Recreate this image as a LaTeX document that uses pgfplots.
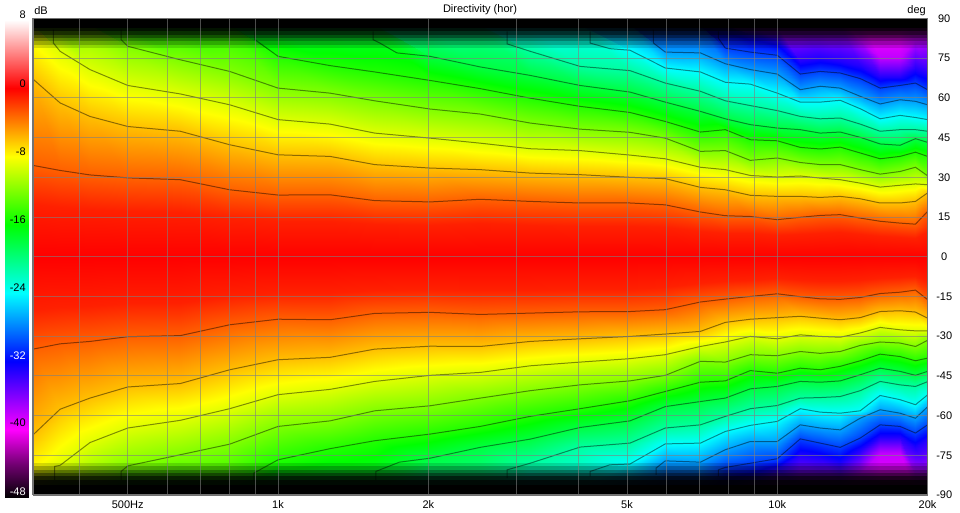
\documentclass[border=0pt]{standalone}
\usepackage{fontspec}
\setmainfont{Liberation Sans}
\usepackage{pgfplots}
\usepackage{pgfplotstable}
\pgfplotsset{compat=1.18}

% angle (deg) at which each level (dB) is reached, per frequency
% d = lower half, u = upper half, the number is the level below 0 dB
\pgfplotstableread{
lev 323 366 420 500 637 800 1000 1271 1562 2016 2541 3199 4027 5070 5966 7015 7870 8830 10000 11120 12190 13370 14660 16070 17620 18920 20000
d41 -90 -90 -90 -90 -90 -90 -90 -90 -90 -90 -90 -90 -90 -90 -90 -90 -90 -90 -90 -90 -90 -90 -90 -90 -90 -90 -90
d38 -90 -90 -90 -90 -90 -90 -90 -90 -90 -90 -90 -89.5 -89.5 -89 -89 -89 -88 -88 -87 -87 -87 -87 -82 -74 -74 -82 -83
d33 -90 -90 -90 -90 -90 -90 -90 -90 -90 -89.5 -89.5 -89 -89 -88.5 -88 -88 -87 -84 -80 -75 -76 -78 -73 -68 -68 -72 -69
d30 -90 -90 -90 -90 -90 -90 -89.5 -89.5 -89.5 -89 -89 -88.5 -88.5 -88 -87 -87 -79.6 -78.0 -76.3 -68.8 -70.4 -72.0 -68.5 -63.5 -64.1 -66.6 -63.5
d27 -90 -90 -90 -89.5 -89.5 -89.5 -89 -89 -89 -88.5 -88.5 -88 -88 -87 -77.1 -77.6 -72.9 -69.8 -69.8 -63.5 -64.7 -65.4 -61.0 -57.8 -59.1 -61.0 -56.7
d24 -90 -89.5 -89.5 -89 -89 -89 -88.5 -88.5 -88.5 -88 -88 -87 -87 -78.3 -70.7 -70.4 -66.0 -63.7 -62.2 -57.4 -58.7 -59.1 -58.2 -52.4 -54.0 -55.9 -52.2
d21 -89.5 -89 -89 -88.5 -88.5 -88.5 -88 -88 -88 -87 -87 -78.0 -71.9 -70.4 -64.7 -63.5 -60.3 -57.4 -56.2 -53.4 -53.2 -52.8 -50.6 -47.1 -48.4 -49.0 -47.2
d18 -89 -88.5 -88.5 -88 -88 -88 -87 -87 -87 -76.1 -72.0 -68.9 -64.5 -62.0 -56.6 -54.7 -53.4 -49.9 -49.0 -47.1 -47.4 -46.9 -44.6 -42.1 -43.3 -44.8 -43.3
d15 -88.5 -88 -88 -87 -87 -87 -76.7 -72.5 -69.5 -67.0 -64.1 -60.3 -57.4 -54.4 -50.9 -47.4 -46.9 -43.0 -44.0 -42.1 -42.7 -41.4 -39.3 -36.8 -37.7 -39.3 -38.3
d12 -88 -87 -87 -79.0 -74.8 -70.8 -64.1 -62.0 -58.2 -56.3 -53.4 -50.6 -48.4 -46.9 -44.8 -39.5 -39.8 -37.0 -37.4 -35.8 -36.5 -35.8 -33.5 -32.2 -32.6 -33.9 -31.6
d9 -87 -78.8 -70.2 -64.7 -61.8 -57.4 -52.1 -50.1 -47.1 -44.8 -43.7 -41.2 -39.8 -38.5 -37.0 -33.9 -32.2 -30.1 -31.0 -29.5 -30.1 -30.4 -28.8 -26.7 -27.6 -28.0 -28.0
d6 -67.3 -57.6 -53.4 -49.2 -47.9 -42.7 -38.9 -38.0 -34.9 -33.8 -33.9 -32.0 -31.0 -30.1 -29.2 -28.2 -24.8 -23.6 -23.0 -22.5 -23.2 -23.8 -23.0 -20.7 -20.4 -20.9 -23.2
d3 -34.9 -32.9 -32.0 -30.2 -29.8 -25.7 -23.6 -23.8 -21.4 -21.0 -21.8 -21.3 -20.8 -20.7 -20.0 -17.1 -16.0 -15.0 -14.0 -15.1 -15.9 -16.1 -15.4 -13.9 -13.4 -12.6 -16.2
d1 -20.2 -19.1 -18.6 -17.5 -17.3 -14.9 -13.7 -13.8 -12.4 -12.2 -12.6 -12.4 -12.1 -12 -11.6 -9.9 -9.3 -8.7 -8.1 -8.8 -9.2 -9.3 -8.9 -8.1 -7.8 -7.3 -9.4
c0 0 0 0 0 0 0 0 0 0 0 0 0 0 0 0 0 0 0 0 0 0 0 0 0 0 0 0
u1 20 18.9 17.9 17.3 16.9 14.7 13.5 13.6 12.3 12 12.6 12.1 11.8 11.8 11.4 9.8 9 8.8 8.1 8.6 9 9.2 8.5 7.8 7.4 7.1 9.9
u3 34.5 32.6 30.9 29.8 29.1 25.3 23.3 23.4 21.2 20.7 21.7 20.9 20.3 20.3 19.6 16.9 15.5 15.2 14.0 14.9 15.6 15.9 14.6 13.4 12.7 12.3 17.1
u6 67.1 58.1 53.0 49.2 47.4 42.3 38.5 37.9 34.8 33.5 32.9 31.6 31.0 30.0 29.5 26.2 25.3 23.2 22.8 22.8 22.4 22.8 21.9 20.3 20.3 20.9 24.1
u9 87 77.6 70.7 64.7 61.5 57.4 51.8 50.1 46.7 44.8 42.9 40.8 40.1 38.4 37.0 33.8 32.9 30.7 30.1 30.5 29.7 29.1 27.8 26.3 27.0 27.5 27.2
u12 88 87 87 79.5 74.4 70.0 63.7 61.8 58.9 55.8 53.9 50.5 48.2 47.0 44.8 39.8 40.1 36.4 37.3 35.6 34.8 34.8 32.9 31.2 32.2 33.8 30.6
u15 88.5 88 88 87 87 87 75.7 72.2 69.8 66.6 63.5 59.9 56.8 54.5 51.1 47.1 48.0 44.2 43.8 41.3 40.7 41.4 39.2 37.0 37.9 39.5 37.9
u18 89 88.5 88.5 88 88 88 87 87 87 75.7 71.7 68.5 64.7 62.2 58.4 54.9 52.1 49.9 48.6 48.0 46.7 47.1 45.1 42.6 42.1 44.6 43.2
u21 89.5 89 89 88.5 88.5 88.5 88 88 88 87 87 77.6 71.9 70.3 65.6 62.5 58.9 57.1 55.2 53.0 52.1 52.4 50.1 47.4 48.0 48.0 47.4
u24 90 89.5 89.5 89 89 89 88.5 88.5 88.5 88 88 87 87 78.0 71.3 69.8 65.9 65.2 61.8 58.4 58.4 59.1 55.9 52.1 53.4 52.6 51.8
u27 90 90 90 89.5 89.5 89.5 89 89 89 88.5 88.5 88 88 87 77.3 77.0 72.9 70.7 69.0 63.1 64.4 63.7 60.6 57.7 59.3 58.7 57.4
u30 90 90 90 90 90 90 89.5 89.5 89.5 89 89 88.5 88.5 88 87 87 78.8 77.3 76.1 69.0 70.0 69.4 67.3 63.7 64.7 65.6 63.1
u33 90 90 90 90 90 90 90 90 90 89.5 89.5 89 89 88.5 88 88 87 84 82 74 75 74 72 68 68 71 69
u38 90 90 90 90 90 90 90 90 90 90 90 89.5 89.5 89 89 89 88 88 87 87 87 87 82 75 75 82 83
u41 90 90 90 90 90 90 90 90 90 90 90 90 90 90 90 90 90 90 90 90 90 90 90 90 90 90 90
}\bylev
\pgfplotstabletranspose[colnames from=lev,input colnames to=f]\bycol\bylev

% long list for the mesh: one line per level
\gdef\meshlist{}
\foreach \r/\z in {0/-41,1/-38,2/-33,3/-30,4/-27,5/-24,6/-21,7/-18,8/-15,9/-12,10/-9,11/-6,12/-3,13/-1,14/0,15/-1,16/-3,17/-6,18/-9,19/-12,20/-15,21/-18,22/-21,23/-24,24/-27,25/-30,26/-33,27/-38,28/-41}{%
  \foreach \f in {323,366,420,500,637,800,1000,1271,1562,2016,2541,3199,4027,5070,5966,7015,7870,8830,10000,11120,12190,13370,14660,16070,17620,18920,20000}{%
    \edef\tmp{\noexpand\pgfplotstablegetelem{\r}{\f}\noexpand\of\noexpand\bylev}\tmp
    \xdef\meshlist{\meshlist(\f,\pgfplotsretval,\z)}%
  }%
}

\pgfplotsset{
  colormap={spl}{rgb255(0cm)=(0,0,0); rgb255(1cm)=(115,0,115); rgb255(2cm)=(255,0,255);
    rgb255(3cm)=(128,0,255); rgb255(4cm)=(0,0,255); rgb255(5cm)=(0,128,255);
    rgb255(6cm)=(0,255,255); rgb255(7cm)=(0,255,128); rgb255(8cm)=(0,255,0);
    rgb255(9cm)=(128,255,0); rgb255(10cm)=(255,255,0); rgb255(11cm)=(255,128,0);
    rgb255(12cm)=(255,0,0); rgb255(13cm)=(255,128,128); rgb255(14cm)=(255,255,255)},
  cont/.style={draw=black,draw opacity=.45,line width=.75pt,no marks,forget plot,
    restrict y to domain=-86.5:86.5,unbounded coords=jump},
  band/.style={draw=none,fill=black,fill opacity=#1,forget plot},
}
\newcommand{\lab}{\fontsize{8.25}{10}\selectfont}
\newcommand{\bandrow}[3]{\addplot3[band=#3] coordinates {(323,#1,0)(20000,#1,0)(20000,#2,0)(323,#2,0)} --cycle;}

\begin{document}
\begin{tikzpicture}[x=0.75pt,y=0.75pt]
\path[use as bounding box] (0,0) rectangle (960,513);

% colour scale
\begin{axis}[
  at={(3.75pt,11.25pt)},anchor=south west,scale only axis,
  width=18pt,height=358.5pt,
  xmin=0,xmax=1,ymin=-48,ymax=8,
  view={0}{90},hide axis,
  colormap name=spl,point meta min=-48,point meta max=8,
]
\addplot3[surf,shader=interp,mesh/cols=2] coordinates {(0,-48,-48)(1,-48,-48)(0,8,8)(1,8,8)};
\end{axis}

% directivity map
\begin{axis}[
  at={(24.75pt,13.5pt)},anchor=south west,scale only axis,
  width=670.9pt,height=357.4pt,
  xmode=log,xmin=323,xmax=20000,ymin=-90,ymax=90,zmin=-50,zmax=10,
  view={0}{90},
  colormap name=spl,point meta min=-48,point meta max=8,
  axis on top,
  axis line style={draw=black!55,line width=1pt},
  xtick={400,500,600,700,800,900,1000,2000,3000,4000,5000,6000,7000,8000,9000,10000,20000},
  xticklabels={,500Hz,,,,,1k,2k,,,5k,,,,,10k,20k},
  ytick={-90,-75,-60,-45,-30,-15,0,15,30,45,60,75,90},
  yticklabels={-90,-75,-60,-45,-30,-15,0,15,30,45,60,75,90},
  ztick=\empty,
  xtick pos=bottom,ytick pos=right,
  xticklabel pos=lower,yticklabel pos=right,
  major tick length=0pt,
  grid=major,
  major grid style={draw=black!50,draw opacity=.6,line width=.7pt},
  ticklabel style={font=\lab},
  yticklabel style={anchor=center,xshift=12.5pt},
  xticklabel style={yshift=-.5pt},
]
\edef\doit{\noexpand\addplot3[surf,shader=interp,mesh/cols=27] coordinates {\meshlist};}\doit

% black fade at both ends
\bandrow{86.4}{90}{1}
\bandrow{85.1}{86.4}{.93}
\bandrow{83.9}{85.1}{.82}
\bandrow{82.6}{83.9}{.68}
\bandrow{81.4}{82.6}{.5}
\bandrow{80.1}{81.4}{.33}
\bandrow{78.8}{80.1}{.15}
\bandrow{-90}{-86.1}{1}
\bandrow{-86.1}{-84.3}{.96}
\bandrow{-84.3}{-83}{.88}
\bandrow{-83}{-81.7}{.72}
\bandrow{-81.7}{-80.5}{.55}
\bandrow{-80.5}{-79.2}{.35}
\bandrow{-79.2}{-78}{.15}

% contours every 3 dB
\addplot3[cont] table[x=f,y=u3,z expr=0] {\bycol};
\addplot3[cont] table[x=f,y=u6,z expr=0] {\bycol};
\addplot3[cont] table[x=f,y=u9,z expr=0] {\bycol};
\addplot3[cont] table[x=f,y=u12,z expr=0] {\bycol};
\addplot3[cont] table[x=f,y=u15,z expr=0] {\bycol};
\addplot3[cont] table[x=f,y=u18,z expr=0] {\bycol};
\addplot3[cont] table[x=f,y=u21,z expr=0] {\bycol};
\addplot3[cont] table[x=f,y=u24,z expr=0] {\bycol};
\addplot3[cont] table[x=f,y=u27,z expr=0] {\bycol};
\addplot3[cont] table[x=f,y=u30,z expr=0] {\bycol};
\addplot3[cont] table[x=f,y=d3,z expr=0] {\bycol};
\addplot3[cont] table[x=f,y=d6,z expr=0] {\bycol};
\addplot3[cont] table[x=f,y=d9,z expr=0] {\bycol};
\addplot3[cont] table[x=f,y=d12,z expr=0] {\bycol};
\addplot3[cont] table[x=f,y=d15,z expr=0] {\bycol};
\addplot3[cont] table[x=f,y=d18,z expr=0] {\bycol};
\addplot3[cont] table[x=f,y=d21,z expr=0] {\bycol};
\addplot3[cont] table[x=f,y=d24,z expr=0] {\bycol};
\addplot3[cont] table[x=f,y=d27,z expr=0] {\bycol};
\addplot3[cont] table[x=f,y=d30,z expr=0] {\bycol};

% where the contours run up into the fade
\addplot3[cont] coordinates {(355,85.8,0)(355,80.7,0)(366,77.6,0)};
\addplot3[cont] coordinates {(485,85.8,0)(485,82,0)(500,79.5,0)};
\addplot3[cont] coordinates {(899,85.1,0)(899,82,0)(1000,75.7,0)};
\addplot3[cont] coordinates {(1550,85.1,0)(1550,82,0)(1600,80.7,0)(1730,77,0)(2016,75.7,0)};
\addplot3[cont] coordinates {(2877,85.1,0)(2877,80.4,0)(3199,77.6,0)};
\addplot3[cont] coordinates {(4220,85.1,0)(4220,80.7,0)(4620,78.6,0)(5070,78,0)};
\addplot3[cont] coordinates {(5650,85.8,0)(5650,80.7,0)(5966,77.3,0)};
\addplot3[cont] coordinates {(7620,85.1,0)(7620,82.6,0)(7870,78.8,0)};
\addplot3[cont] coordinates {(357,-84.3,0)(357,-79.2,0)(366,-78.8,0)};
\addplot3[cont] coordinates {(485,-84.3,0)(485,-81.1,0)(500,-79,0)};
\addplot3[cont] coordinates {(895,-84.9,0)(895,-81.7,0)(1000,-76.7,0)};
\addplot3[cont] coordinates {(1570,-84.3,0)(1570,-81.1,0)(1750,-77.6,0)(2016,-76.1,0)};
\addplot3[cont] coordinates {(2877,-83.6,0)(2877,-80.5,0)(3199,-78,0)};
\addplot3[cont] coordinates {(4220,-83,0)(4220,-81.1,0)(4620,-78.6,0)(5070,-78.3,0)};
\addplot3[cont] coordinates {(5720,-82.4,0)(5720,-79.8,0)(5966,-77.1,0)};
\addplot3[cont] coordinates {(7620,-83,0)(7620,-80.5,0)(7870,-79.6,0)};
\end{axis}

% texts around the map
\node[font=\lab] at (480,503) {Directivity (hor)};
\node[font=\lab,anchor=west,inner sep=0pt] at (34,502) {dB};
\node[font=\lab,anchor=east,inner sep=0pt] at (926,502) {deg};
\node[font=\lab,anchor=east,inner sep=0pt] at (26,498) {8};
\node[font=\lab,anchor=east,inner sep=0pt] at (26,429) {0};
\node[font=\lab,anchor=east,inner sep=0pt] at (26,361) {-8};
\node[font=\lab,anchor=east,inner sep=0pt] at (26,293) {-16};
\node[font=\lab,anchor=east,inner sep=0pt] at (26,225) {-24};
\node[font=\lab,anchor=east,inner sep=0pt,text=white] at (26,157) {-32};
\node[font=\lab,anchor=east,inner sep=0pt] at (26,90) {-40};
\node[font=\lab,anchor=east,inner sep=0pt,text=white] at (26,21) {-48};
\end{tikzpicture}
\end{document}
